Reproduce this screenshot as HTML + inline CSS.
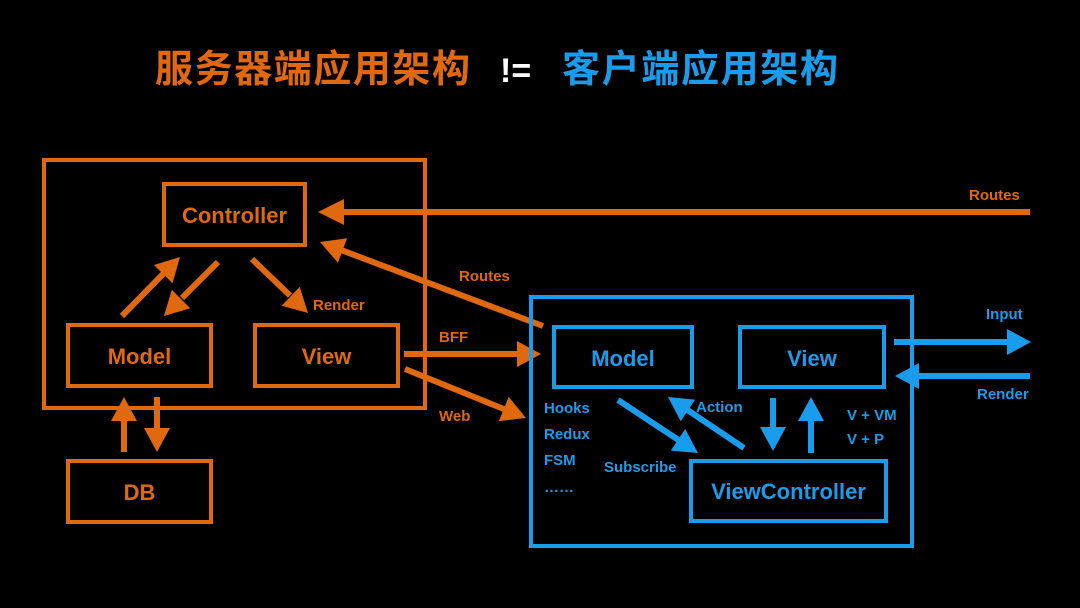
<!DOCTYPE html>
<html><head><meta charset="utf-8"><style>
html,body{margin:0;padding:0;background:#000;width:1080px;height:608px;overflow:hidden}
svg text{font-family:"Liberation Sans","Noto Sans CJK SC",sans-serif;font-weight:bold}
</style></head><body>
<svg width="1080" height="608" viewBox="0 0 1080 608" xmlns="http://www.w3.org/2000/svg">
<rect width="1080" height="608" fill="#000"/>
<text x="155" y="82" font-size="38" fill="#e0680f" textLength="315">服务器端应用架构</text>
<text x="500" y="82" font-size="34" fill="#fff">!=</text>
<text x="562" y="82" font-size="38" fill="#1a9cec" textLength="276">客户端应用架构</text>

<g fill="none" stroke="#e0680f" stroke-width="4">
<rect x="44" y="160" width="381" height="248"/>
<rect x="164" y="184" width="141" height="61"/>
<rect x="68" y="325" width="143" height="61"/>
<rect x="255" y="325" width="143" height="61"/>
<rect x="68" y="461" width="143" height="61"/>
</g>
<g stroke="#e0680f" stroke-width="6">
<line x1="1030" y1="212" x2="340" y2="212"/>
<line x1="543" y1="326" x2="340" y2="249.6"/>
<line x1="122" y1="316" x2="165" y2="272"/>
<line x1="218" y1="262" x2="182" y2="298"/>
<line x1="252" y1="259" x2="290" y2="295.5"/>
<line x1="404" y1="354" x2="518" y2="354"/>
<line x1="405" y1="369" x2="505" y2="409.5"/>
<line x1="124" y1="452" x2="124" y2="419"/>
<line x1="157" y1="397" x2="157" y2="430"/>
</g>
<g fill="#e0680f">
<polygon points="318,212 344,199 344,225"/>
<polygon points="320,242 347.1,238.3 337.9,262.7"/>
<polygon points="180,257 172.5,283.2 153.9,265"/>
<polygon points="164,316 190.2,308.2 171.8,289.8"/>
<polygon points="308,313 299.7,286.9 281.7,305.7"/>
<polygon points="541,354 517,341 517,367"/>
<polygon points="526,418 498.9,421.1 508.7,396.9"/>
<polygon points="124,397 111,421 137,421"/>
<polygon points="157,452 144,428 170,428"/>
</g>
<g fill="#e0680f" font-size="22">
<text x="234.5" y="223" text-anchor="middle">Controller</text>
<text x="139.5" y="364" text-anchor="middle">Model</text>
<text x="326.5" y="364" text-anchor="middle">View</text>
<text x="139.5" y="500" text-anchor="middle">DB</text>
</g>
<g fill="#e0680f" font-size="15">
<text x="969" y="200">Routes</text>
<text x="459" y="281">Routes</text>
<text x="313" y="310">Render</text>
<text x="439" y="342">BFF</text>
<text x="439" y="421">Web</text>
</g>

<g fill="none" stroke="#1a9cec" stroke-width="4">
<rect x="531" y="297" width="381" height="249"/>
<rect x="554" y="327" width="138" height="60"/>
<rect x="740" y="327" width="144" height="60"/>
<rect x="691" y="461" width="195" height="60"/>
</g>
<g stroke="#1a9cec" stroke-width="6">
<line x1="618" y1="400" x2="680" y2="441"/>
<line x1="744" y1="448" x2="686" y2="409"/>
<line x1="773" y1="398" x2="773" y2="429"/>
<line x1="811" y1="453" x2="811" y2="419"/>
<line x1="894" y1="342" x2="1008" y2="342"/>
<line x1="1030" y1="376" x2="918" y2="376"/>
</g>
<g fill="#1a9cec">
<polygon points="698,453 670.8,450.6 685.2,429"/>
<polygon points="668,397 695.1,399.6 680.7,421.2"/>
<polygon points="773,451 760,427 786,427"/>
<polygon points="811,397 798,421 824,421"/>
<polygon points="1031,342 1007,329 1007,355"/>
<polygon points="895,376 919,363 919,389"/>
</g>
<g fill="#1a9cec" font-size="22">
<text x="623" y="366" text-anchor="middle">Model</text>
<text x="812" y="366" text-anchor="middle">View</text>
<text x="788.5" y="499" text-anchor="middle">ViewController</text>
</g>
<g fill="#1a9cec" font-size="15">
<text x="986" y="319">Input</text>
<text x="977" y="399">Render</text>
<text x="544" y="413">Hooks</text>
<text x="544" y="439">Redux</text>
<text x="544" y="465">FSM</text>
<text x="544" y="492">……</text>
<text x="604" y="472">Subscribe</text>
<text x="696" y="412">Action</text>
<text x="847" y="420">V + VM</text>
<text x="847" y="444">V + P</text>
</g>
</svg>
</body></html>
